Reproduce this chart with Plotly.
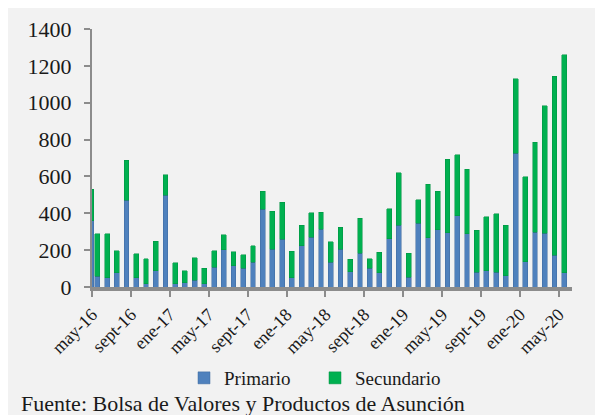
import plotly.graph_objects as go

# Months (first one only partially visible at the left edge)
months = ["abr-16",
          "may-16", "jun-16", "jul-16", "ago-16", "sept-16", "oct-16", "nov-16", "dic-16",
          "ene-17", "feb-17", "mar-17", "abr-17", "may-17", "jun-17", "jul-17", "ago-17",
          "sept-17", "oct-17", "nov-17", "dic-17",
          "ene-18", "feb-18", "mar-18", "abr-18", "may-18", "jun-18", "jul-18", "ago-18",
          "sept-18", "oct-18", "nov-18", "dic-18",
          "ene-19", "feb-19", "mar-19", "abr-19", "may-19", "jun-19", "jul-19", "ago-19",
          "sept-19", "oct-19", "nov-19", "dic-19",
          "ene-20", "feb-20", "mar-20", "abr-20", "may-20"]

primario = [360,
            58, 49, 78, 471, 49, 18, 87, 499,
            18, 22, 36, 18, 107, 203, 116, 103,
            134, 421, 205, 258,
            49, 225, 270, 314, 134, 205, 82, 183,
            103, 76, 263, 334,
            54, 346, 267, 312, 294, 386, 290, 80,
            87, 80, 60, 725,
            138, 297, 292, 171, 76]

secundario = [170,
              232, 241, 120, 218, 132, 134, 160, 110,
              113, 67, 124, 85, 91, 80, 76, 71,
              89, 99, 207, 201,
              145, 109, 132, 92, 111, 120, 69, 189,
              49, 113, 161, 286,
              129, 127, 291, 207, 400, 332, 348, 227,
              294, 317, 276, 406,
              460, 489, 691, 973, 1184]

tick_labels = ["may-16", "sept-16", "ene-17", "may-17", "sept-17", "ene-18", "may-18",
               "sept-18", "ene-19", "may-19", "sept-19", "ene-20", "may-20"]

y_ticks = [0, 200, 400, 600, 800, 1000, 1200, 1400]

# numeric positions: may-16 = 0
x = [i - 1 for i in range(len(months))]
widths = [1.3] + [0.5] * (len(months) - 1)
tickvals = [months.index(m) - 1 - 0.55 for m in tick_labels]

BLUE = "#4F81BD"
GREEN = "#00B050"
FONT = "Liberation Serif, Times New Roman, Tinos, DejaVu Serif, serif"

fig = go.Figure()
fig.add_trace(go.Bar(x=x, y=primario, name="Primario", width=widths,
                     marker=dict(color=BLUE, line=dict(color="#3F6A9E", width=0.5))))
fig.add_trace(go.Bar(x=x, y=secundario, name="Secundario", width=widths,
                     marker=dict(color=GREEN, line=dict(color="#009040", width=0.5))))

# page body has an 8px margin: figure starts at (8, 8)
W, H = 595, 407
L, R, T, B = 84, 31, 21, 128
pw, ph = W - L - R, H - T - B
base = H - B  # pixel y of plot bottom within figure

fig.update_layout(
    barmode="stack",
    width=W, height=H,
    margin=dict(l=L, r=R, t=T, b=B, pad=0, autoexpand=False),
    paper_bgcolor="#F2F2F2",
    plot_bgcolor="rgba(0,0,0,0)",
    font=dict(family=FONT, color="#1a1a1a"),
    showlegend=True,
    legend=dict(orientation="h", x=(176 - L) / pw, xanchor="left",
                y=-(370 - base) / ph, yanchor="middle",
                entrywidth=86, entrywidthmode="pixels",
                font=dict(size=19, family=FONT), bgcolor="rgba(0,0,0,0)",
                traceorder="normal"),
    xaxis=dict(range=[-0.55, 48.8], tickmode="array", tickvals=tickvals,
               ticktext=tick_labels, tickangle=-45,
               tickfont=dict(size=18, family=FONT, color="#1a1a1a"),
               showline=True, linecolor="#8C8C8C", linewidth=4,
               ticks="outside", ticklen=6, tickcolor="#8C8C8C", tickwidth=2,
               showgrid=False, zeroline=False, automargin=False),
    yaxis=dict(range=[0, 1400], tickmode="array", tickvals=y_ticks,
               tickfont=dict(size=22, family=FONT, color="#1a1a1a"),
               ticklabelstandoff=8,
               showline=True, linecolor="#8C8C8C", linewidth=2,
               ticks="outside", ticklen=6, tickcolor="#8C8C8C", tickwidth=2,
               showgrid=False, zeroline=False, automargin=False),
    annotations=[dict(text="Fuente: Bolsa de Valores y Productos de Asunción",
                      xref="paper", yref="paper", x=(11 - L) / pw, xanchor="left",
                      y=-(395 - base) / ph, yanchor="middle", showarrow=False,
                      font=dict(size=22, family=FONT, color="#1a1a1a"))],
)

fig.write_html("out.html")
